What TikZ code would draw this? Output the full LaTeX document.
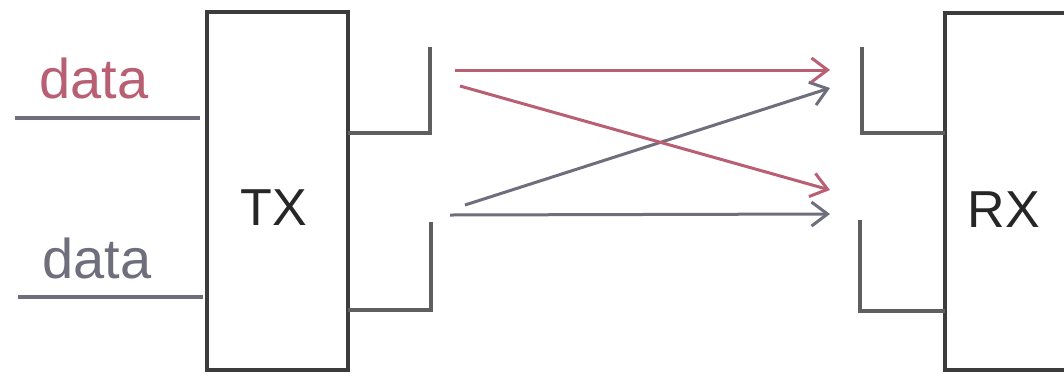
\documentclass[tikz,border=0pt]{standalone}
\usepackage{fontspec}
\setmainfont{Liberation Sans}
\usetikzlibrary{arrows.meta}
\definecolor{rosec}{RGB}{185,95,115}
\definecolor{grayc}{RGB}{110,110,125}
\definecolor{boxc}{RGB}{60,60,60}
\definecolor{brc}{RGB}{95,95,95}
\begin{document}
\begin{tikzpicture}[x=1pt,y=-1pt,
  blk/.style={draw=boxc,line width=3.5pt},
  brk/.style={draw=brc,line width=3.5pt},
  lbl/.style={font=\fontsize{52}{52}\selectfont,inner sep=0pt},
  sig/.style={line width=3pt,-{Straight Barb[length=16pt,width=24pt,line width=3pt]}},
  underl/.style={line width=3.5pt}]
\useasboundingbox (0,0) rectangle (1064,376);
% boxes
\draw[blk] (207,12) rectangle (348,370);
\draw[blk] (1090,13) -- (945,13) -- (945,370) -- (1090,370);
\node[lbl,text=black!85] (tx) at (274,208) {TX};
\node[lbl,text=black!85] (rx) at (1004,210) {RX};
% data labels
\node[lbl,text=rosec,font=\fontsize{56}{56}\selectfont] (d1) at (94,78) {data};
\node[lbl,text=grayc,font=\fontsize{56}{56}\selectfont] (d2) at (97,258) {data};
\coordinate (u1a) at (15,118); \coordinate (u1b) at (200,118);
\coordinate (u2a) at (18,297); \coordinate (u2b) at (203,297);
\draw[underl,draw=grayc] (u1a) -- (u1b);
\draw[underl,draw=grayc] (u2a) -- (u2b);
% TX brackets
\coordinate (t1) at (430,47); \coordinate (t1c) at (430,133); \coordinate (t1e) at (348,133);
\coordinate (t2) at (431,222); \coordinate (t2c) at (431,310); \coordinate (t2e) at (348,310);
\draw[brk] (t1) -- (t1c) -- (t1e);
\draw[brk] (t2) -- (t2c) -- (t2e);
% RX brackets
\coordinate (r1) at (862,47); \coordinate (r1c) at (862,133); \coordinate (r1e) at (945,133);
\coordinate (r2) at (860,220); \coordinate (r2c) at (860,311); \coordinate (r2e) at (945,311);
\draw[brk] (r1) -- (r1c) -- (r1e);
\draw[brk] (r2) -- (r2c) -- (r2e);
% signals
\coordinate (a1s) at (455,70); \coordinate (a1e) at (830,70);
\coordinate (a2s) at (460,86); \coordinate (a2e) at (830,190);
\coordinate (a3s) at (465,205); \coordinate (a3e) at (830,88);
\coordinate (a4s) at (450,215); \coordinate (a4e) at (830,214);
\draw[sig,draw=grayc] (a3s) -- (a3e);
\draw[sig,draw=grayc] (a4s) -- (a4e);
\draw[sig,draw=rosec] (a1s) -- (a1e);
\draw[sig,draw=rosec] (a2s) -- (a2e);
\end{tikzpicture}
\end{document}
